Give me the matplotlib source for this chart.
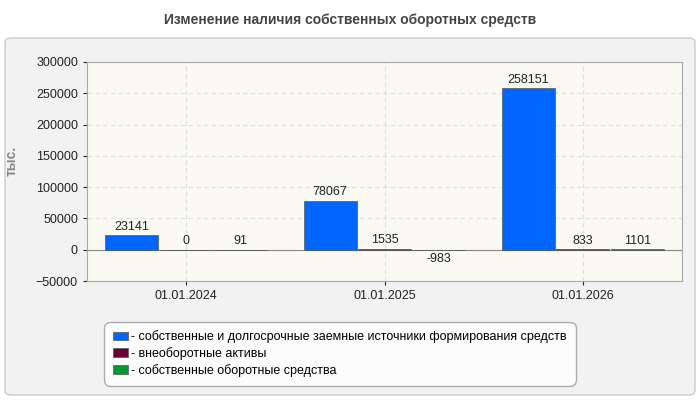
import matplotlib
matplotlib.use("Agg")
import matplotlib.pyplot as plt
from matplotlib.patches import FancyBboxPatch
import numpy as np

categories = ["01.01.2024", "01.01.2025", "01.01.2026"]
series_names = ["- собственные и долгосрочные заемные источники формирования средств",
                "- внеоборотные активы",
                "- собственные оборотные средства"]
own_long = [23141, 78067, 258151]
noncurrent = [0, 1535, 833]
working = [91, -983, 1101]
colors = ["#0066ff", "#660033", "#009933"]

plt.rcParams['font.family'] = ['Liberation Sans', 'DejaVu Sans']
fig = plt.figure(figsize=(7, 4), dpi=100)
fig.patch.set_facecolor("white")
fig.patches.append(FancyBboxPatch((5/700, 5/400), 690/700, 357/400, boxstyle="round,pad=0,rounding_size=0.01",
                                  transform=fig.transFigure, facecolor="#f2f2f2", edgecolor="#cccccc", lw=1, zorder=-5))
fig.text(0.5, 1-20/400, "Изменение наличия собственных оборотных средств", ha="center", va="center",
         fontsize=10, fontweight="bold", color="#444444")

ax = fig.add_axes([87/700, 1-281/400, 595/700, 219/400])
ax.set_zorder(2)
ax.set_facecolor("#fafaf2")
x = np.arange(len(categories))
w = 0.274
for i, (vals, c) in enumerate(zip([own_long, noncurrent, working], colors)):
    xs = x + (i-1)*w
    ax.bar(xs, vals, width=w*0.98, color=c, edgecolor="#555555", lw=0.5, zorder=3, label=series_names[i])
    for xx, v in zip(xs, vals):
        ax.text(xx, v + 4000 if v >= 0 else v - 4000, str(v), ha="center",
                va="bottom" if v >= 0 else "top", fontsize=9, color="#222222", zorder=4)
ax.set_xlim(-0.5, 2.5)
ax.set_ylim(-50000, 300000)
ax.set_yticks(np.arange(-50000, 300001, 50000))
ax.set_xticks(x)
ax.set_xticklabels(categories)
ax.tick_params(labelsize=9, colors="#222222", length=3)
ax.grid(True, ls=(0, (4, 3)), color="#dddddd", lw=0.8, zorder=0)
ax.axhline(0, color="#888888", lw=0.8, zorder=2)
for s in ax.spines.values():
    s.set_color("#aaaaaa")
ax.set_ylabel("тыс.", color="#888888", fontsize=10, fontweight="bold")
ax.yaxis.set_label_coords(-0.115, 0.55)

leg = fig.legend(loc="upper left", bbox_to_anchor=(100/700, 1-318/400), fontsize=9, frameon=True,
                 handlelength=1.2, handleheight=0.7, borderpad=0.5, labelspacing=0.3, handletextpad=0.3)
leg.get_frame().set_edgecolor("#999999")
leg.get_frame().set_facecolor("white")
leg.get_frame().set_boxstyle("round,pad=0.2,rounding_size=0.5")
fig.savefig("out.png", dpi=100)
